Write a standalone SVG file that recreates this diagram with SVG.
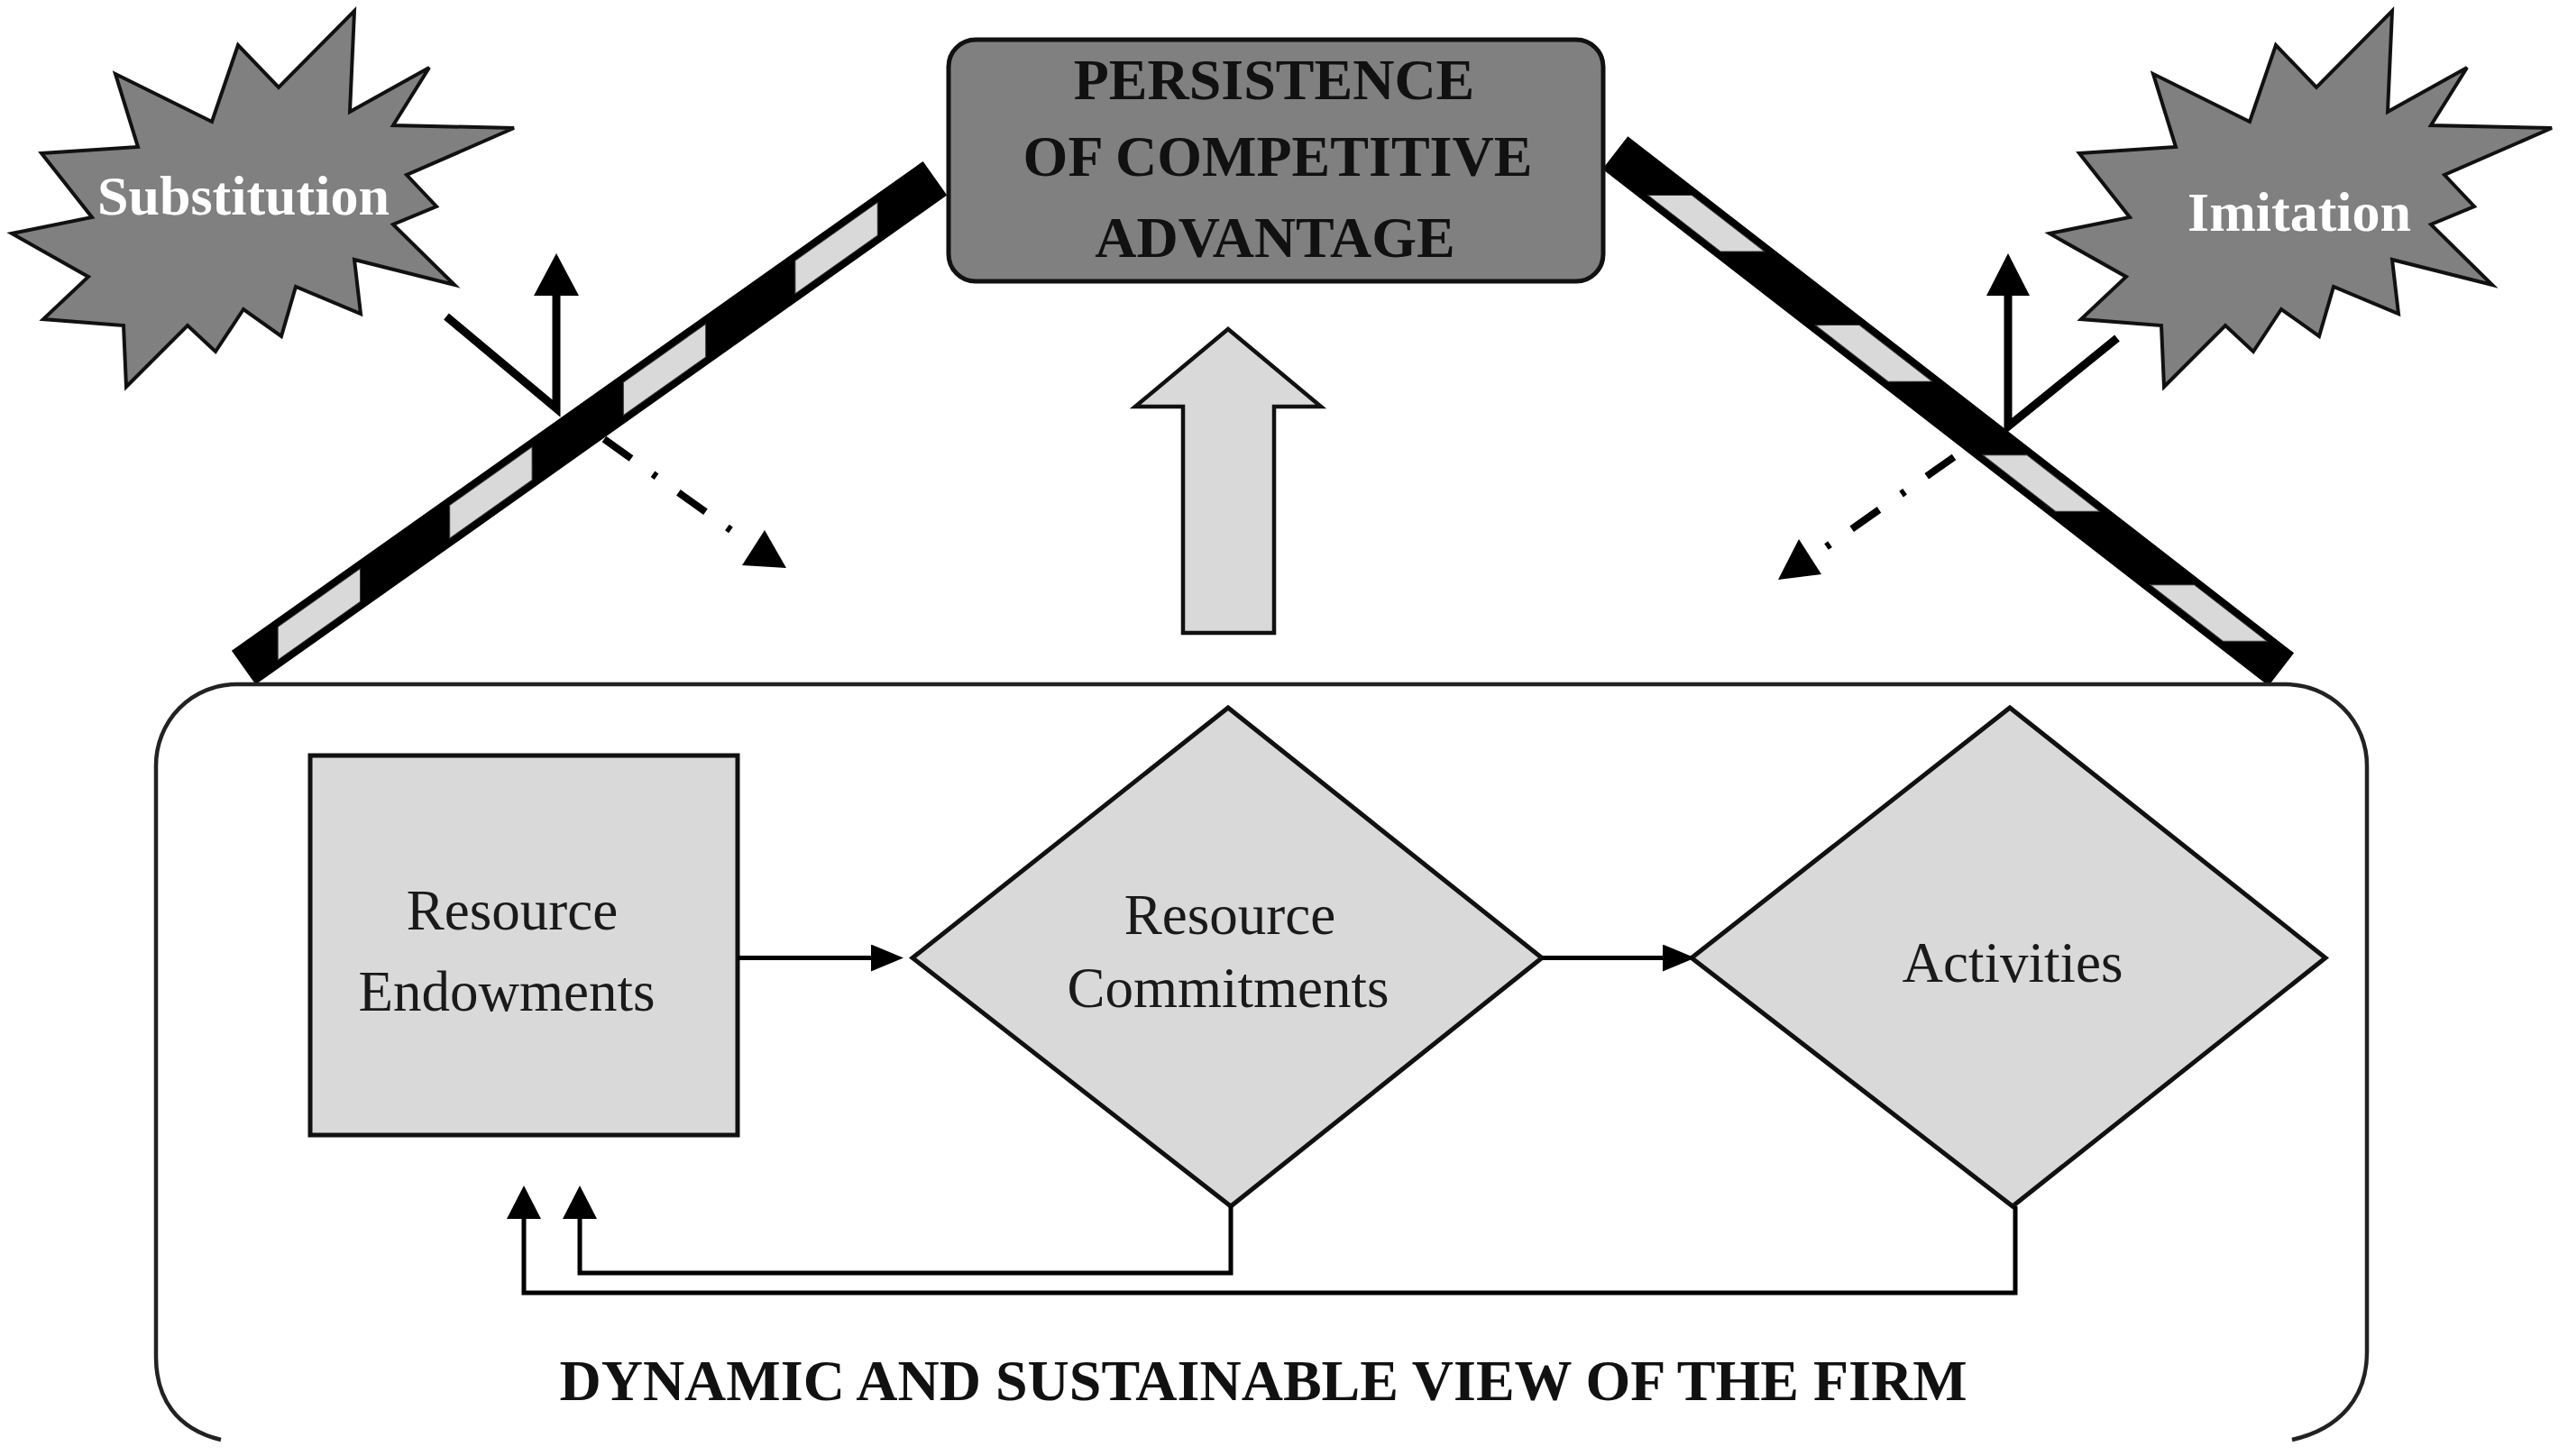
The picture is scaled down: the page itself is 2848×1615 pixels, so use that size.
<svg xmlns="http://www.w3.org/2000/svg" xmlns:xlink="http://www.w3.org/1999/xlink" width="2848" height="1615" viewBox="0 0 2848 1615">
  <style>
    .serif { font-family: "Liberation Serif", "Times New Roman", serif; }
    .hdr { font-size: 64px; font-weight: bold; fill: #111; text-anchor: middle; }
    .burst-txt { font-size: 62px; font-weight: bold; fill: #ffffff; text-anchor: middle; }
    .node-txt { font-size: 63px; fill: #1a1a1a; text-anchor: middle; }
    .title { font-size: 64px; font-weight: bold; fill: #111; text-anchor: middle; }
    .burst { fill: #808080; stroke: #111; stroke-width: 4; stroke-linejoin: miter; }
    .lightfill { fill: #d9d9d9; stroke: #111; stroke-width: 5; }
    .conn { fill: none; stroke: #000; stroke-width: 5; }
    .thick { fill: none; stroke: #000; stroke-width: 9; stroke-linejoin: miter; }
    .dashdot { fill: none; stroke: #000; stroke-width: 8; stroke-dasharray: 37 29.5 5 30; }
    .bar { fill: #000; stroke: #000; stroke-width: 2; }
    .stripe { fill: #d9d9d9; stroke: #333; stroke-width: 1; }
  </style>
  <defs>
    <polygon id="burstShape" points="393,12 388,124 476,75 436,139 570,142 451,194 484,229 436,249 504,316 393,288 400,348 328,318 312,373 270,343 239,390 208,361 140,429 137,361 48,354 98,307 13,259 102,241 46,170 153,163 128,82 235,135 264,50 309,97"/>
    <marker id="ah" markerUnits="userSpaceOnUse" markerWidth="36" markerHeight="30" refX="1" refY="15" orient="auto">
      <path d="M0,0 L36,15 L0,30 z" fill="#000"/>
    </marker>
    <marker id="ahv" markerUnits="userSpaceOnUse" markerWidth="37" markerHeight="38" refX="1" refY="19" orient="auto">
      <path d="M0,0 L37,19 L0,38 z" fill="#000"/>
    </marker>
  </defs>
  <rect width="2848" height="1615" fill="#ffffff"/>

  <!-- Striped barriers -->
  <g id="barrier-left" transform="translate(271,740) rotate(-35.3)">
    <rect class="bar" x="0" y="-22" width="937.5" height="44"/>
    <polygon class="stripe" points="56.1,-15 168.1,-15 146.9,15 34.9,15"/>
    <polygon class="stripe" points="289.6,-15 401.6,-15 380.4,15 268.4,15"/>
    <polygon class="stripe" points="525.6,-15 637.6,-15 616.4,15 504.4,15"/>
    <polygon class="stripe" points="759.1,-15 871.1,-15 849.9,15 737.9,15"/>
  </g>
  <g id="barrier-right" transform="translate(1792,170) rotate(37.8)">
    <rect class="bar" x="0" y="-22" width="933" height="44"/>
    <polygon class="stripe" points="95.3,-15 197.3,-15 158.7,15 56.7,15"/>
    <polygon class="stripe" points="330.3,-15 432.3,-15 393.7,15 291.7,15"/>
    <polygon class="stripe" points="565.3,-15 667.3,-15 628.7,15 526.7,15"/>
    <polygon class="stripe" points="800.3,-15 902.3,-15 863.7,15 761.7,15"/>
  </g>

  <!-- Top node -->
  <g id="persistence">
    <rect x="1052" y="44" width="726" height="268" rx="30" ry="30" fill="#808080" stroke="#111" stroke-width="5"/>
    <text class="serif hdr" x="1413" y="110">PERSISTENCE</text>
    <text class="serif hdr" x="1417" y="195">OF COMPETITIVE</text>
    <text class="serif hdr" x="1414" y="285">ADVANTAGE</text>
  </g>

  <!-- Starbursts -->
  <g id="substitution">
    <use xlink:href="#burstShape" href="#burstShape" class="burst"/>
    <text class="serif burst-txt" x="270" y="238">Substitution</text>
  </g>
  <g id="imitation">
    <use xlink:href="#burstShape" href="#burstShape" class="burst" transform="translate(2260,0)"/>
    <text class="serif burst-txt" x="2550" y="256">Imitation</text>
  </g>

  <!-- Big upward arrow -->
  <g id="big-arrow">
    <polygon points="1362,365 1465,451 1413,451 1413,702 1312,702 1312,451 1259,451" fill="#d9d9d9" stroke="#111" stroke-width="4.5" stroke-linejoin="miter"/>
  </g>

  <!-- Firm container -->
  <g id="firm">
    <path d="M245,1597 C195,1585 173,1550 173,1505 L173,849 A89,90 0 0 1 262,759 L2535,759 A90,90 0 0 1 2625,849 L2625,1500 C2625,1550 2595,1585 2542,1597" fill="none" stroke="#222" stroke-width="4.5"/>
    <text class="serif title" x="1401" y="1553">DYNAMIC AND SUSTAINABLE VIEW OF THE FIRM</text>
  </g>

  <g id="resource-endowments">
    <rect class="lightfill" x="344" y="838" width="474" height="421"/>
    <text class="serif node-txt" x="568" y="1031">Resource</text>
    <text class="serif node-txt" x="562" y="1121">Endowments</text>
  </g>

  <g id="resource-commitments">
    <polygon class="lightfill" points="1362,785 1710,1062.5 1365,1338 1012,1062.5"/>
    <text class="serif node-txt" x="1364" y="1036">Resource</text>
    <text class="serif node-txt" x="1362" y="1117">Commitments</text>
  </g>

  <g id="activities">
    <polygon class="lightfill" points="2229,785 2579,1062.5 2232,1338 1876,1062.5"/>
    <text class="serif node-txt" x="2232" y="1089">Activities</text>
  </g>

  <!-- Connectors -->
  <g id="connectors">
    <line class="conn" x1="818" y1="1062.5" x2="967" y2="1062.5" marker-end="url(#ah)"/>
    <line class="conn" x1="1710" y1="1062.5" x2="1845" y2="1062.5" marker-end="url(#ah)"/>
    <path class="conn" d="M1365,1338 L1365,1412 L643,1412 L643,1351" marker-end="url(#ahv)"/>
    <path class="conn" d="M2235,1338 L2235,1434 L581,1434 L581,1351" marker-end="url(#ahv)"/>

    <!-- left reflection arrows -->
    <path class="thick" d="M495,351 L617,453 L617,326"/>
    <polygon points="617,281 642,328 592,328" fill="#000"/>
    <line class="dashdot" x1="670" y1="487" x2="810.5" y2="588"/>
    <polygon points="848,588 872,630 823,627" fill="#000"/>

    <!-- right reflection arrows -->
    <path class="thick" d="M2348,375 L2227,473 L2227,326"/>
    <polygon points="2227,281 2251,328 2203,328" fill="#000"/>
    <line class="dashdot" x1="2167" y1="507" x2="2025.5" y2="606.5"/>
    <polygon points="1995,598 2020,637 1972,643" fill="#000"/>
  </g>
</svg>
